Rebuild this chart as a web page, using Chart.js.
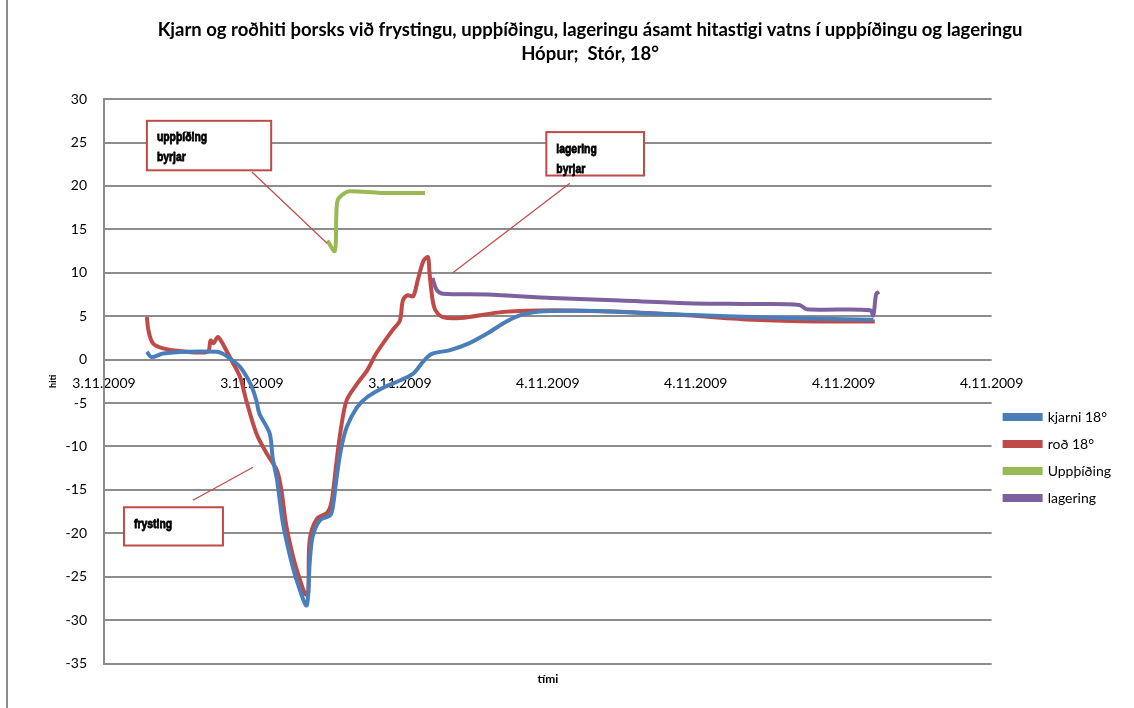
<!DOCTYPE html>
<html>
<head>
<meta charset="utf-8">
<script src="https://cdn.jsdelivr.net/npm/chart.js@4.4.0/dist/chart.umd.min.js"></script>
<style>
  body { margin: 0; background: #fff; }
  #frame { position: absolute; left: 6px; top: -3px; width: 1200px; height: 720px; border-left: 2px solid #8c8c8c; }
  #chart { position: absolute; left: 0; top: 0; }
</style>
</head>
<body>
<div id="frame"></div>
<canvas id="chart" width="1134" height="708"></canvas>
<script>
const tickLabels = ['3.11.2009', '3.11.2009', '3.11.2009', '4.11.2009', '4.11.2009', '4.11.2009', '4.11.2009'];

const kjarniX = [0.29, 0.32, 0.40, 0.56, 0.76, 0.80, 0.85, 0.92, 0.99, 1.03, 1.05, 1.12, 1.14, 1.17, 1.21, 1.26, 1.31, 1.37,
  1.39, 1.41, 1.46, 1.53, 1.55, 1.57, 1.60, 1.64, 1.71, 1.78, 1.89, 2.00, 2.09, 2.14, 2.18, 2.22, 2.34, 2.47, 2.59, 2.70,
  2.81, 2.93, 3.03, 3.35, 3.71, 4.03, 4.39, 4.84, 5.20];
const kjarniY = [0.9, 0.3, 0.7, 0.9, 0.9, 0.7, 0.15, -0.85, -2.8, -4.7, -6.2, -8.5, -11.3, -13.9, -18.9, -22.8, -25.8, -28.3,
  -23.5, -20.4, -18.5, -17.9, -16.6, -13.9, -10.5, -7.8, -5.5, -4.3, -3.2, -2.4, -1.6, -0.6, 0.2, 0.7, 1.1, 1.9, 3.0, 4.2,
  5.1, 5.5, 5.6, 5.6, 5.3, 5.1, 4.9, 4.7, 4.6];

const rodX = [0.29, 0.30, 0.33, 0.40, 0.51, 0.70, 0.72, 0.74, 0.77, 0.80, 0.85, 0.92, 0.96, 1.03, 1.10, 1.17, 1.20, 1.23,
  1.28, 1.32, 1.36, 1.38, 1.39, 1.44, 1.51, 1.54, 1.57, 1.60, 1.64, 1.71, 1.78, 1.84, 1.95, 2.00, 2.02, 2.05, 2.09, 2.12,
  2.16, 2.19, 2.20, 2.22, 2.24, 2.29, 2.41, 2.70, 3.03, 3.49, 3.94, 4.39, 4.84, 5.21];
const rodY = [4.9, 3.4, 1.9, 1.3, 1.0, 0.9, 2.2, 1.9, 2.6, 1.9, 0.3, -2.0, -4.6, -8.5, -10.8, -12.8, -15.1, -18.9,
  -22.8, -25.1, -27.0, -27.0, -20.8, -18.3, -17.6, -16.2, -12.0, -8.1, -4.7, -2.8, -1.2, 0.7, 3.4, 4.5, 6.8, 7.4, 7.3, 9.1,
  11.4, 11.8, 10.0, 7.0, 5.7, 4.9, 4.8, 5.5, 5.7, 5.5, 5.1, 4.6, 4.4, 4.4];

const uppthidingX = [1.51, 1.56, 1.57, 1.58, 1.62, 1.66, 1.87, 2.17];
const uppthidingY = [13.7, 12.5, 16.4, 18.4, 19.1, 19.4, 19.2, 19.2];

const lageringX = [2.22, 2.25, 2.29, 2.59, 3.03, 3.49, 3.94, 4.39, 4.70, 4.75, 5.18, 5.20, 5.22, 5.24];
const lageringY = [9.4, 8.0, 7.6, 7.5, 7.1, 6.8, 6.5, 6.4, 6.3, 5.8, 5.7, 5.1, 7.6, 7.8];

// text boxes and pointer lines, in data units
const notes = [
  { lines: ['uppþíðing', 'byrjar'], box: [0.29, 27.5, 1.13, 21.8], arrow: [1.0, 21.6, 1.507, 13.4] },
  { lines: ['lagering', 'byrjar'], box: [2.99, 26.2, 3.65, 21.2], arrow: [3.149, 20.3, 2.358, 10.0] },
  { lines: ['frysting'], box: [0.135, -17.0, 0.804, -21.4], arrow: [0.601, -16.2, 1.007, -12.4] }
];

function pts(xs, ys) {
  return xs.map((x, i) => ({ x: x, y: ys[i] }));
}

const series = [
  { label: 'kjarni 18°', data: pts(kjarniX, kjarniY), color: '#4a7ebb' },
  { label: 'roð 18°', data: pts(rodX, rodY), color: '#be4b48' },
  { label: 'Uppþíðing', data: pts(uppthidingX, uppthidingY), color: '#98b954' },
  { label: 'lagering', data: pts(lageringX, lageringY), color: '#7d60a0' }
];

const notesPlugin = {
  id: 'notes',
  beforeDraw(chart) {
    // legend sits lower beside the plot, title a bit right of centre, like the original
    chart.legend.top = chart.chartArea.top + 298;
    chart.titleBlock.left = 46;
    chart.titleBlock.right = chart.width;
  },
  afterDatasetsDraw(chart) {
    const c = chart.ctx, sx = chart.scales.x, sy = chart.scales.y;
    c.save();
    notes.forEach(n => {
      c.strokeStyle = '#be4b48';
      c.lineWidth = 1.2;
      c.beginPath();
      c.moveTo(sx.getPixelForValue(n.arrow[0]), sy.getPixelForValue(n.arrow[1]));
      c.lineTo(sx.getPixelForValue(n.arrow[2]), sy.getPixelForValue(n.arrow[3]));
      c.stroke();
      const x0 = sx.getPixelForValue(n.box[0]), y0 = sy.getPixelForValue(n.box[1]);
      const x1 = sx.getPixelForValue(n.box[2]), y1 = sy.getPixelForValue(n.box[3]);
      c.fillStyle = '#fff';
      c.fillRect(x0, y0, x1 - x0, y1 - y0);
      c.lineWidth = 2;
      c.strokeRect(x0, y0, x1 - x0, y1 - y0);
      c.fillStyle = '#000';
      c.strokeStyle = '#000';
      c.lineWidth = 0.8;
      c.font = 'bold 13px "Liberation Sans"';
      c.textBaseline = 'middle';
      n.lines.forEach((t, i) => {
        c.save();
        c.translate(x0 + 10, y0 + 17 + i * 20);
        c.scale(0.8, 1);
        c.fillText(t, 0, 0);
        c.strokeText(t, 0, 0);
        c.restore();
      });
    });
    c.restore();
  }
};

new Chart(document.getElementById('chart'), {
  type: 'line',
  data: {
    datasets: series.map(s => ({
      label: s.label,
      data: s.data,
      borderColor: s.color,
      backgroundColor: s.color,
      borderWidth: 4,
      pointRadius: 0,
      tension: 0.3,
      fill: false
    }))
  },
  options: {
    responsive: false,
    animation: false,
    layout: { padding: { left: 10, right: 13, top: 0, bottom: 0 } },
    scales: {
      x: {
        type: 'linear',
        min: 0,
        max: 6,
        position: { y: 0 },
        grid: { display: false },
        border: { display: false },
        afterFit(scale) {
          scale.paddingLeft = 0;
          scale.paddingRight = 0;
        },
        ticks: {
          stepSize: 1,
          autoSkip: false,
          maxRotation: 0,
          color: '#000',
          padding: 7,
          font: { family: 'Lato', size: 14 },
          callback: v => tickLabels[v]
        }
      },
      x2: {
        type: 'linear',
        position: 'bottom',
        min: 0,
        max: 6,
        grid: { display: false, drawTicks: false },
        border: { display: false },
        ticks: { display: false },
        title: {
          display: true,
          text: 'tími',
          color: '#000',
          font: { family: 'Lato', size: 12, weight: 'bold' },
          padding: { top: 8, bottom: 22 }
        }
      },
      y: {
        min: -35,
        max: 30,
        grid: { color: '#8c8c8c', lineWidth: 2, drawTicks: false },
        border: { display: true, color: '#8c8c8c', width: 2 },
        afterFit(scale) {
          scale.width = 94;
        },
        ticks: {
          stepSize: 5,
          color: '#000',
          padding: 17,
          font: { family: 'Lato', size: 14 }
        },
        title: {
          display: true,
          text: 'hiti',
          color: '#000',
          font: { family: 'Lato', size: 9, weight: 'bold' },
          padding: { top: 38, bottom: 9 }
        }
      }
    },
    plugins: {
      title: {
        display: true,
        text: ['Kjarn og roðhiti þorsks við frystingu, uppþíðingu, lageringu ásamt hitastigi vatns í uppþíðingu og lageringu',
          'Hópur;  Stór, 18°'],
        color: '#000',
        font: { family: 'Lato', size: 18.5, weight: 'bold', lineHeight: 1.3 },
        padding: { top: 18, bottom: 33 }
      },
      legend: {
        display: true,
        position: 'right',
        align: 'start',
        maxWidth: 142,
        labels: {
          boxWidth: 36,
          boxHeight: 4,
          color: '#000',
          padding: 13,
          font: { family: 'Lato', size: 14 }
        }
      },
      tooltip: { enabled: false }
    }
  },
  plugins: [notesPlugin]
});
</script>
</body>
</html>
